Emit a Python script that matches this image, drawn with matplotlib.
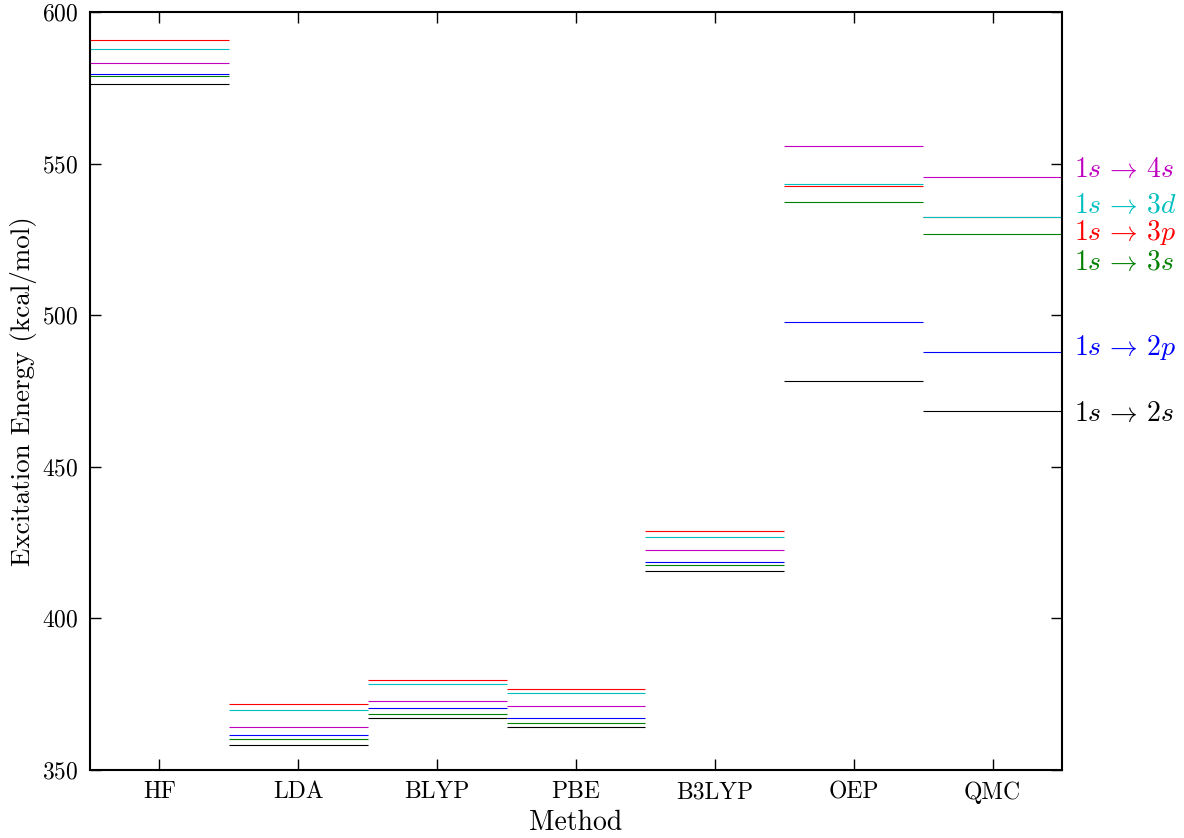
import matplotlib
matplotlib.use("Agg")
import matplotlib.pyplot as plt

plt.rcParams.update({
    'font.family': 'serif',
    'font.serif': ['cmr10'],
    'mathtext.fontset': 'cm',
    'axes.unicode_minus': False,
    'axes.formatter.use_mathtext': True,
    'font.size': 17,
})

methods = ["HF", "LDA", "BLYP", "PBE", "B3LYP", "OEP", "QMC"]

# excitation energies (kcal/mol) per transition, one value per method
e_2s = [576.4, 358.4, 367.2, 364.1, 415.5, 478.4, 468.3]
e_2p = [579.6, 361.5, 370.4, 367.3, 418.7, 497.9, 487.9]
e_3s = [578.9, 360.2, 368.5, 365.4, 417.5, 537.4, 526.8]
e_3p = [590.8, 371.7, 379.7, 376.6, 428.7, 542.5, 532.4]
e_3d = [587.7, 369.7, 378.5, 375.4, 426.9, 543.3, 532.4]
e_4s = [583.3, 364.1, 372.9, 371.0, 422.5, 555.8, 545.6]

labels = [r"$1s\,\rightarrow\,2s$", r"$1s\,\rightarrow\,2p$", r"$1s\,\rightarrow\,3s$",
          r"$1s\,\rightarrow\,3p$", r"$1s\,\rightarrow\,3d$", r"$1s\,\rightarrow\,4s$"]
label_y = [467.6, 489.3, 517.4, 527.4, 536.0, 548.0]
colors = ["k", "b", "g", "r", "c", "m"]

fig = plt.figure(figsize=(11.84, 8.38), dpi=100)
ax = fig.add_axes([0.076, 0.0811, 0.821, 0.9046])

series = [e_2s, e_2p, e_3s, e_3p, e_3d, e_4s]
for vals, col, lab, ly in zip(series, colors, labels, label_y):
    for i, v in enumerate(vals):
        ax.hlines(v, i - 0.5, i + 0.5, colors=col, linewidth=0.8)
    ax.text(6.585, ly, lab, color=col, fontsize=20, va='center', ha='left')

ax.set_xlim(-0.5, 6.5)
ax.set_ylim(350, 600)
ax.set_xticks(range(len(methods)))
ax.set_xticklabels(methods)
ax.set_yticks([350, 400, 450, 500, 550, 600])
ax.tick_params(direction='in', length=8, width=1, top=True, right=True, pad=8)
for sp in ax.spines.values():
    sp.set_linewidth(1.5)
ax.set_xlabel("Method", fontsize=20, labelpad=4)
ax.set_ylabel("Excitation Energy (kcal/mol)", fontsize=19.5, labelpad=4)

plt.savefig("out.png", dpi=100)
